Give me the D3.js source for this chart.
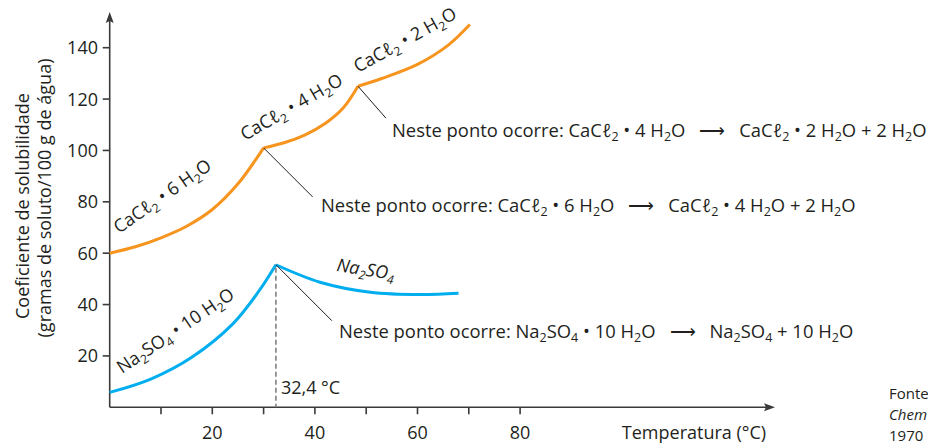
<!DOCTYPE html>
<html><head><meta charset="utf-8">
<script src="https://cdn.jsdelivr.net/npm/d3@7"></script>
<style>
html,body{margin:0;padding:0;background:#fff;}
svg{display:block;font-family:"Open Sans",sans-serif;}
</style></head><body>
<svg id="chart" width="928" height="444"></svg>
<script>
// Axis ticks
const xTicks = [10, 20, 30, 40, 50, 60, 70, 80];
const xTickLabels = [20, 40, 60, 80];
const yTicks = [20, 40, 60, 80, 100, 120, 140];

// Solubility (g / 100 g water) vs temperature (°C)
const cacl2Hexa  = [[0, 60], [5, 62.5], [10, 66], [15, 70.5], [20, 77], [25, 87], [30, 101]];
const cacl2Tetra = [[30, 101], [34, 103], [38, 106], [42, 110.5], [45.5, 116.5], [48.4, 125]];
const cacl2Di    = [[48.4, 125], [53, 128], [60, 133.5], [66, 141], [70.2, 149]];
const na2so4Deca = [[0, 5.8], [8, 11], [16, 19.5], [24, 32.5], [29, 45], [32.4, 55.5]];
const na2so4Anh  = [[32.4, 55.5], [41, 48.7], [50.8, 44.8], [60.5, 43.9], [68, 44.4]];
const transitionT = 32.4;

// Source note lines
const sourceLines = ["Fonte", "Chem", "1970"];

const ORANGE = "#f7941d", BLUE = "#00aeef", INK = "#231f20";

const svg = d3.select("#chart");
const x = d3.scaleLinear().domain([0, 80]).range([109.7, 520.1]);
const y = d3.scaleLinear().domain([0, 140]).range([407.3, 47.7]);

// rich text: "_2" => subscript 2
function rich(sel, str, size) {
  const parts = str.split(/(_\d+)/).filter(p => p !== "");
  let pending = 0;
  parts.forEach(p => {
    if (p[0] === "_") {
      sel.append("tspan").attr("font-size", size * 0.68).attr("dy", size * 0.24 + pending).text(p.slice(1));
      pending = -size * 0.24;
    } else {
      sel.append("tspan").attr("dy", pending).text(p);
      pending = 0;
    }
  });
  return sel;
}

// axes
const ax = svg.append("g").attr("stroke", "#3a3a3a").attr("stroke-width", 1.6);
ax.append("line").attr("x1", x(0)).attr("x2", 768).attr("y1", y(0)).attr("y2", y(0));
ax.append("line").attr("x1", x(0)).attr("x2", x(0)).attr("y1", y(0)).attr("y2", 19);
svg.append("path").attr("d", `M775,${y(0)} L764,${y(0) - 4} L766,${y(0)} L764,${y(0) + 4} Z`).attr("fill", "#3a3a3a");
svg.append("path").attr("d", `M${x(0)},12 L${x(0) - 4},23 L${x(0)},21 L${x(0) + 4},23 Z`).attr("fill", "#3a3a3a");

ax.selectAll(".xt").data(xTicks).join("line")
  .attr("x1", d => x(d)).attr("x2", d => x(d)).attr("y1", y(0)).attr("y2", y(0) + 7);
ax.selectAll(".yt").data(yTicks).join("line")
  .attr("x1", x(0) - 7).attr("x2", x(0)).attr("y1", d => y(d)).attr("y2", d => y(d));

svg.selectAll(".xl").data(xTickLabels).join("text")
  .attr("x", d => x(d)).attr("y", 439).attr("text-anchor", "middle")
  .attr("font-size", 18).attr("fill", INK).text(d => d);
svg.selectAll(".yl").data(yTicks).join("text")
  .attr("x", 98).attr("y", d => y(d) + 6.5).attr("text-anchor", "end")
  .attr("font-size", 18).attr("fill", INK).text(d => d);

svg.append("text").attr("x", 694).attr("y", 439).attr("text-anchor", "middle")
  .attr("font-size", 18).attr("fill", INK).text("Temperatura (°C)");

svg.append("text").attr("transform", "translate(29,206) rotate(-90)").attr("text-anchor", "middle")
  .attr("font-size", 18).attr("fill", INK).text("Coeficiente de solubilidade");
svg.append("text").attr("transform", "translate(51,198) rotate(-90)").attr("text-anchor", "middle")
  .attr("font-size", 18).attr("fill", INK).text("(gramas de soluto/100 g de água)");

// curves
const line = d3.line().x(d => x(d[0])).y(d => y(d[1])).curve(d3.curveCatmullRom.alpha(0.5));
[[cacl2Hexa, ORANGE], [cacl2Tetra, ORANGE], [cacl2Di, ORANGE], [na2so4Deca, BLUE], [na2so4Anh, BLUE]]
  .forEach(([data, c]) => svg.append("path").datum(data).attr("d", line)
    .attr("fill", "none").attr("stroke", c).attr("stroke-width", 3).attr("stroke-linejoin", "miter"));

// transition temperature marker
svg.append("line").attr("x1", x(transitionT)).attr("x2", x(transitionT))
  .attr("y1", y(na2so4Anh[0][1]) + 3).attr("y2", y(0))
  .attr("stroke", "#808080").attr("stroke-width", 1.6).attr("stroke-dasharray", "5,3");
svg.append("text").attr("x", x(transitionT) + 5).attr("y", 394).attr("font-size", 18).attr("fill", INK)
  .text(String(transitionT).replace(".", ",") + " °C");

// curve labels
const labels = [
  ["CaCℓ_2 • 6 H_2O", 119, 234, -35, false],
  ["CaCℓ_2 • 4 H_2O", 245, 141, -30, false],
  ["CaCℓ_2 • 2 H_2O", 358, 73, -29, false],
  ["Na_2SO_4 • 10 H_2O", 122, 374, -34, false],
  ["Na_2SO_4", 336, 271, 9, true]
];
labels.forEach(([s, lx, ly, a, it]) => {
  const t = svg.append("text").attr("transform", `translate(${lx},${ly}) rotate(${a})`)
    .attr("font-size", 18).attr("fill", INK).attr("font-style", it ? "italic" : null);
  rich(t, s, 18);
});

// transitions: leader lines + equations
const notes = [
  [cacl2Hexa[cacl2Hexa.length - 1], 49, 49, 321, 212, "Neste ponto ocorre: CaCℓ_2 • 6 H_2O \u2002⟶\u2002 CaCℓ_2 • 4 H_2O + 2 H_2O"],
  [cacl2Tetra[cacl2Tetra.length - 1], 28, 32, 392, 137, "Neste ponto ocorre: CaCℓ_2 • 4 H_2O \u2002⟶\u2002 CaCℓ_2 • 2 H_2O + 2 H_2O"],
  [na2so4Deca[na2so4Deca.length - 1], 56, 56, 339, 338, "Neste ponto ocorre: Na_2SO_4 • 10 H_2O \u2002⟶\u2002 Na_2SO_4 + 10 H_2O"]
];
notes.forEach(([p, dx, dy, tx, ty, s]) => {
  svg.append("line").attr("x1", x(p[0])).attr("y1", y(p[1])).attr("x2", x(p[0]) + dx).attr("y2", y(p[1]) + dy)
    .attr("stroke", INK).attr("stroke-width", 1);
  rich(svg.append("text").attr("x", tx).attr("y", ty).attr("font-size", 18.4).attr("fill", INK), s, 18.4);
});

// source note
const src = svg.append("g").attr("font-size", 15).attr("fill", INK);
src.selectAll("text").data(sourceLines).join("text")
  .attr("x", 889).attr("y", (d, i) => 399 + i * 21)
  .attr("font-style", (d, i) => i === 1 ? "italic" : null)
  .text(d => d);
</script>
</body></html>
